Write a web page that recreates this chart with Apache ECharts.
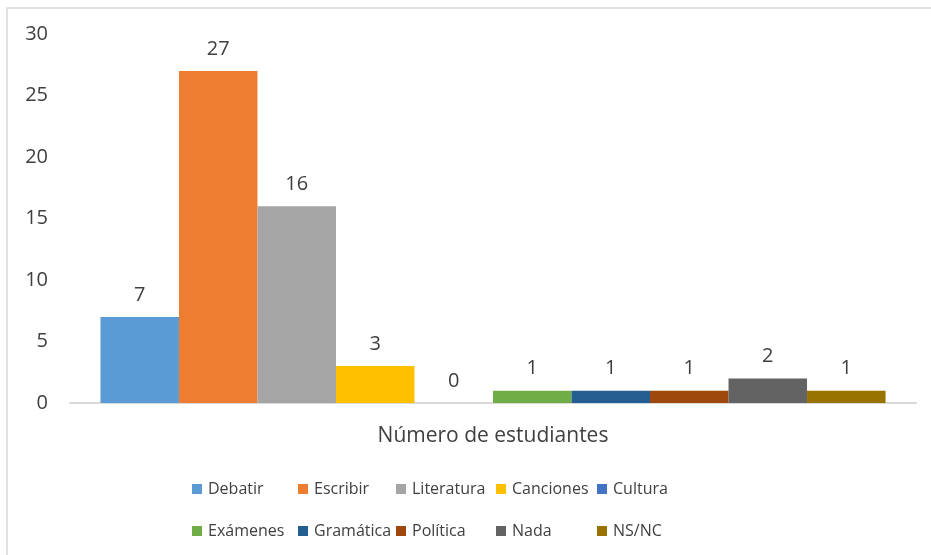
<!DOCTYPE html>
<html>
<head>
<meta charset="utf-8">
<script src="https://cdn.jsdelivr.net/npm/echarts@6/dist/echarts.min.js"></script>
<style>
html,body{margin:0;padding:0;background:#fff;}
#chartContainer{width:931px;height:555px;}
</style>
</head>
<body>
<div id="chartContainer"></div>
<script>
var categories = ["Número de estudiantes"];
var seriesNames = ["Debatir","Escribir","Literatura","Canciones","Cultura","Exámenes","Gramática","Política","Nada","NS/NC"];
var seriesValues = [7,27,16,3,0,1,1,1,2,1];
var seriesColors = ["#5B9BD5","#ED7D31","#A5A5A5","#FFC000","#4472C4","#70AD47","#255E91","#9E480E","#636363","#997300"];
var yTicks = [0,5,10,15,20,25,30];

function initStudentBarChart(tagName){
	var dom = document.getElementById(tagName);
	var myChart = echarts.init(dom);
	var fontName = "Open Sans";
	var series = [];
	for(var i=0;i<seriesNames.length;i++){
		series.push({
			name:seriesNames[i],
			type:'bar',
			barGap:'0%',
			barCategoryGap:'7.2%',
			itemStyle:{color:seriesColors[i]},
			label:{
				show:true,
				position:'top',
				distance:12,
				color:'#404040',
				fontFamily:fontName,
				fontSize:20
			},
			data:[seriesValues[i]]
		});
	}
	// legend laid out as a 5 x 2 grid, one legend per item
	var colX = [192,298,396,496,597];
	var rowY = [481,523];
	var legends = [];
	for(var j=0;j<seriesNames.length;j++){
		legends.push({
			data:[seriesNames[j]],
			left:colX[j%5],
			top:rowY[Math.floor(j/5)],
			itemWidth:10,
			itemHeight:10,
			icon:'rect',
			padding:0,
			textStyle:{color:'#404040',fontFamily:fontName,fontSize:16,padding:[0,0,0,1]}
		});
	}
	var option = {
		animation:false,
		graphic:[{
			type:'rect',
			shape:{x:7,y:8,width:960,height:600},
			style:{fill:'none',stroke:'#d9d9d9',lineWidth:1.5},
			silent:true
		}],
		grid:{left:70,right:15,top:34,bottom:152},
		legend:legends,
		xAxis:{
			type:'category',
			data:categories,
			axisLine:{lineStyle:{color:'#d9d9d9',width:2}},
			axisTick:{show:false},
			axisLabel:{color:'#404040',fontFamily:fontName,fontSize:21,margin:23}
		},
		yAxis:{
			type:'value',
			min:yTicks[0],
			max:yTicks[yTicks.length-1],
			interval:yTicks[1]-yTicks[0],
			splitLine:{show:false},
			axisLine:{show:false},
			axisTick:{show:false},
			axisLabel:{color:'#404040',fontFamily:fontName,fontSize:20,margin:22}
		},
		series:series
	};
	myChart.setOption(option, true);
}
initStudentBarChart("chartContainer");
</script>
</body>
</html>
